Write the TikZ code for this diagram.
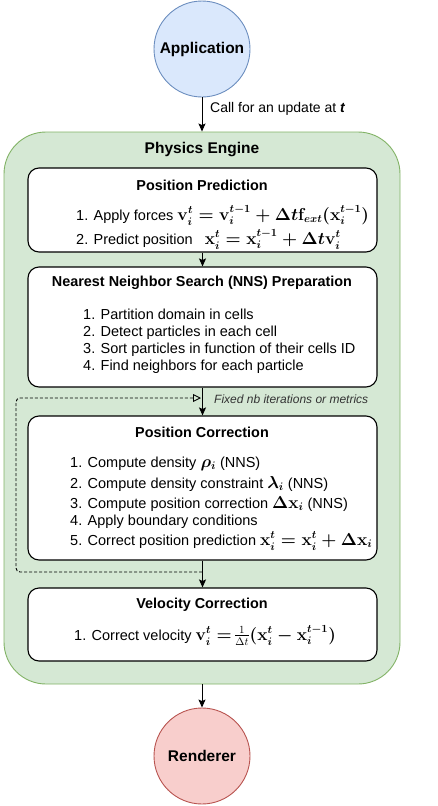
\documentclass[tikz,border=0pt]{standalone}
\usepackage{fontspec}
\setmainfont{Liberation Sans}
\usepackage{amsmath}
\usetikzlibrary{arrows.meta}
\definecolor{appfill}{HTML}{DAE8FC}
\definecolor{appline}{HTML}{6C8EBF}
\definecolor{engfill}{HTML}{D5E8D4}
\definecolor{engline}{HTML}{82B366}
\definecolor{renfill}{HTML}{F8CECC}
\definecolor{renline}{HTML}{B85450}
\newcommand{\mth}[1]{{\fontsize{16}{17}\selectfont\boldmath$#1$}}
\newcommand{\mthn}[1]{{\fontsize{16}{17}\selectfont$#1$}}
\begin{document}
\begin{tikzpicture}[x=1pt,y=-1pt,
  circ/.style={circle, draw, minimum size=96pt, inner sep=0pt, line width=0.9pt,
    font=\bfseries\fontsize{15.5}{18}\selectfont},
  stage/.style={draw, rounded corners=11pt, line width=1.1pt, fill=white,
    minimum width=349pt, inner sep=0pt},
  stagetitle/.style={font=\bfseries\fontsize{14.4}{17}\selectfont, inner sep=0pt},
  item/.style={anchor=base west, inner sep=0pt, font=\fontsize{14.5}{17}\selectfont},
  arr/.style={-{Stealth[length=8pt,width=7pt,inset=1.5pt]}, line width=1pt},
  lbl/.style={anchor=west, inner sep=0pt, font=\fontsize{14}{16}\selectfont}
]
\useasboundingbox (0,0) rectangle (437,806);

% container
\node[draw=engline, fill=engfill, line width=0.9pt, rounded corners=42pt,
  minimum width=396pt, minimum height=552pt, inner sep=0pt] (eng) at (202,408) {};
\node[font=\bfseries\fontsize{15.5}{18}\selectfont, inner sep=0pt] (engt) at (202,150) {Physics Engine};

% circles
\node[circ, fill=appfill, draw=appline] (app) at (202,49) {Application};
\node[circ, fill=renfill, draw=renline] (ren) at (202,756) {Renderer};

% stages
\node[stage, minimum height=84pt] (b1) at (202.5,210) {};
\node[stage, minimum height=120pt] (b2) at (202.5,327) {};
\node[stage, minimum height=144pt] (b3) at (202.5,488) {};
\node[stage, minimum height=73pt] (b4) at (202.5,624.5) {};

% titles
\node[stagetitle] (t1) at (202,185) {Position Prediction};
\node[stagetitle] (t2) at (202,283) {Nearest Neighbor Search (NNS) Preparation};
\node[stagetitle] (t3) at (202,432) {Position Correction};
\node[stagetitle] (t4) at (202,605) {Velocity Correction};

% box 1 items
\node[item] (i11) at (76,220) {1. Apply forces \mth{\mathbf{v}_i^t=\mathbf{v}_i^{t-1}+\Delta t\mathbf{f}_{ext}(\mathbf{x}_i^{t-1})}};
\node[item] (i12) at (76,244) {2. Predict position\hspace{8pt} \mth{\mathbf{x}_i^t=\mathbf{x}_i^{t-1}+\Delta t\mathbf{v}_i^t}};

% box 2 items
\node[item] (i21) at (83,319) {1. Partition domain in cells};
\node[item] (i22) at (83,336) {2. Detect particles in each cell};
\node[item] (i23) at (83,353) {3. Sort particles in function of their cells ID};
\node[item] (i24) at (83,370) {4. Find neighbors for each particle};

% box 3 items
\node[item] (i31) at (70,467) {1. Compute density \mth{\rho_i} (NNS)};
\node[item] (i32) at (70,488) {2. Compute density constraint \mth{\lambda_i} (NNS)};
\node[item] (i33) at (70,508) {3. Compute position correction \mth{\Delta\mathbf{x}_i} (NNS)};
\node[item] (i34) at (70,525) {4. Apply boundary conditions};
\node[item] (i35) at (70,545) {5. Correct position prediction \mth{\mathbf{x}_i^t=\mathbf{x}_i^t+\Delta\mathbf{x}_i}};

% box 4 item
\node[item] (i41) at (74,640) {1. Correct velocity \mth{\mathbf{v}_i^t=}\,\mthn{\frac{1}{\Delta t}}\mth{(\mathbf{x}_i^t-\mathbf{x}_i^{t-1})}};

% connectors
\draw[arr] (app) -- (eng.north);
\node[lbl] (call) at (210,109) {Call for an update at \textbf{\textit{t}}};
\draw[arr] (b1) -- (b2);
\draw[arr] (b2) -- (b3);
\draw[arr] (b3) -- (b4);
\draw[arr] (eng.south) -- (ren);

% loop
\coordinate (lb) at (202,572);
\coordinate (lt) at (201,398);
\draw[dash pattern=on 3pt off 2pt, line width=0.9pt, rounded corners=4pt, -{Triangle[open,length=8pt,width=8pt]}]
  (lb) -| (16,398) -- (lt);
\node[anchor=west, inner sep=0pt, font=\itshape\fontsize{12}{14}\selectfont, text=black!80] (fix) at (214,399) {Fixed nb iterations or metrics};
\end{tikzpicture}
\end{document}
